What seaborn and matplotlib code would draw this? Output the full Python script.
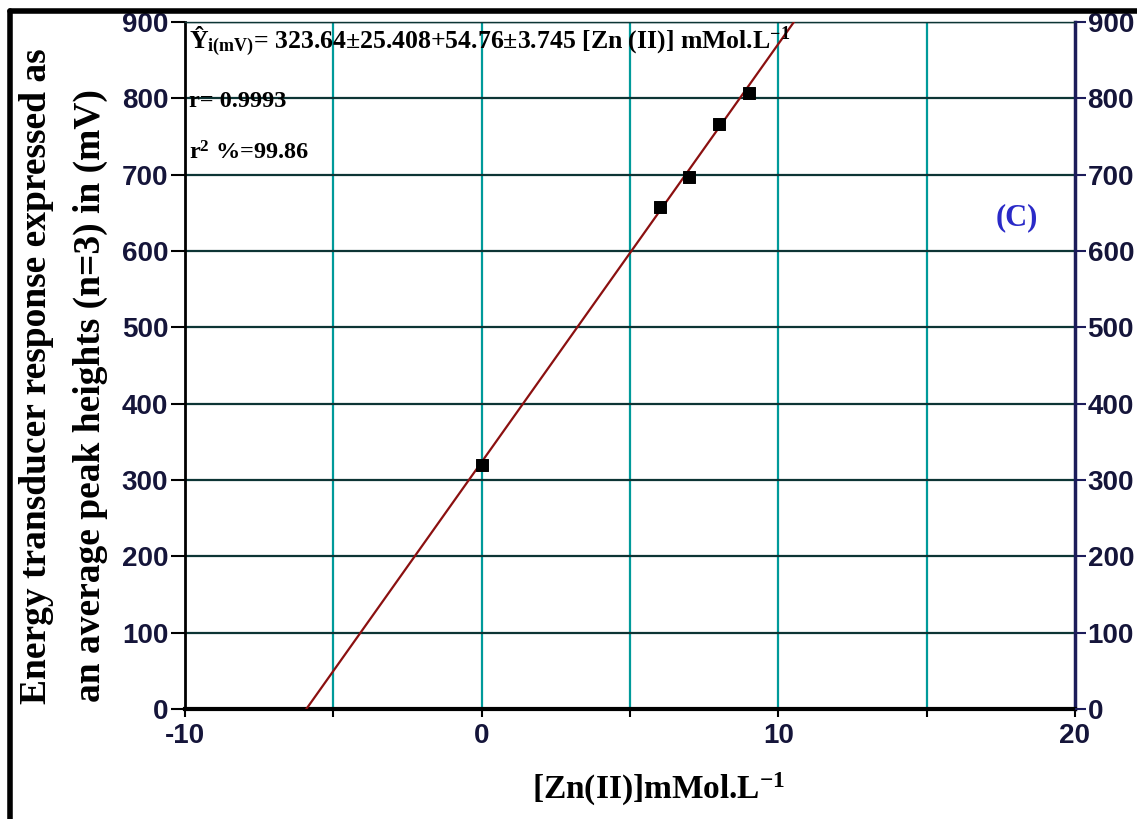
import numpy as np
import pandas as pd
import matplotlib
matplotlib.use("Agg")
import matplotlib.pyplot as plt
from matplotlib.lines import Line2D
import seaborn as sns

# ---- data ----
zn_conc = [0, 6, 7, 8, 9]                 # [Zn(II)] mMol/L
peak_mv = [320, 657, 697, 766, 807]        # mV
intercept = 323.64
slope = 54.76
x_ticks = [-10, 0, 10, 20]
x_grid = [-10, -5, 0, 5, 10, 15, 20]
y_ticks = [0, 100, 200, 300, 400, 500, 600, 700, 800, 900]
ylabel_lines = ["Energy transducer response expressed as",
                "an average peak heights (n=3) in (mV)"]

sns.set_theme(style="white")
plt.rcParams['font.family'] = ['Liberation Sans', 'DejaVu Sans']
plt.rcParams['mathtext.fontset'] = 'custom'
plt.rcParams['mathtext.rm'] = 'Liberation Serif:bold'
plt.rcParams['mathtext.it'] = 'Liberation Serif:bold:italic'
plt.rcParams['mathtext.bf'] = 'Liberation Serif:bold'

fig = plt.figure(figsize=(11.37, 8.19), dpi=100)
ax = fig.add_axes([185/1137, 1-709/819, 890/1137, 687/819])

df = pd.DataFrame({"x": zn_conc, "y": peak_mv})
xf = np.linspace(x_ticks[0], x_ticks[-1], 200)
fit = pd.DataFrame({"x": xf, "y": intercept + slope * xf})

# grid
for g in x_grid[1:-1]:
    ax.axvline(g, color='#009a9a', lw=1.6, zorder=1)
for g in y_ticks[1:-1]:
    ax.axhline(g, color='#0d3535', lw=1.6, zorder=1)
ax.axhline(y_ticks[-1], color='#0d3535', lw=1.0, zorder=1)

sns.lineplot(data=fit, x="x", y="y", ax=ax, color='#8b1010', lw=1.6, zorder=3)
sns.scatterplot(data=df, x="x", y="y", ax=ax, marker='s', s=75, color='black',
                edgecolor='black', zorder=4)

ax.set_xlim(x_ticks[0], x_ticks[-1])
ax.set_ylim(y_ticks[0], y_ticks[-1])
ax.set_xticks(x_ticks)
ax.set_xticks(x_grid, minor=True)
ax.set_yticks(y_ticks)
tick_col = '#15153a'
ax.set_xticklabels([str(t) for t in x_ticks], fontsize=20, fontweight='bold', color=tick_col)
ax.set_yticklabels([str(t) for t in y_ticks], fontsize=20, fontweight='bold', color=tick_col)
ax.tick_params(axis='y', which='major', direction='out', length=10, width=1.5, color='black', pad=2, left=True)
ax.tick_params(axis='x', which='both', direction='out', length=6, width=1.5, color='black', pad=4, bottom=True)

for s in ['left', 'bottom']:
    ax.spines[s].set_color('black')
ax.spines['left'].set_linewidth(2.0)
ax.spines['bottom'].set_linewidth(3.0)
ax.spines['top'].set_linewidth(1.0)
ax.spines['top'].set_color('#0d3535')
ax.spines['right'].set_color('#1c1c5a')
ax.spines['right'].set_linewidth(2.5)

ax2 = ax.twinx()
ax2.set_ylim(y_ticks[0], y_ticks[-1])
ax2.set_yticks(y_ticks)
ax2.set_yticklabels([str(t) for t in y_ticks], fontsize=20, fontweight='bold', color=tick_col)
ax2.tick_params(axis='y', direction='out', length=8, width=1.5, color='#1c1c5a', pad=1, right=True)
for s in ax2.spines.values():
    s.set_visible(False)
ax2.grid(False)

ax.set_xlabel("[Zn(II)]mMol.L$^{\\mathregular{-1}}$", fontsize=24, fontweight='bold',
              family='Liberation Serif', labelpad=18, color='black')
ax.xaxis.set_label_coords(0.532, -0.09)
ax.set_ylabel("")

fig.text(37/1137, 1-376/819, ylabel_lines[0], rotation=90, fontsize=27, fontweight='bold',
         family='Liberation Serif', ha='center', va='center', color='black')
fig.text(90/1137, 1-396/819, ylabel_lines[1], rotation=90, fontsize=27, fontweight='bold',
         family='Liberation Serif', ha='center', va='center', color='black')

ax.text(0.005, 0.997, "Ŷ$_{\\mathregular{i(mV)}}$= 323.64±25.408+54.76±3.745 [Zn (II)] mMol.L$^{\\mathregular{-1}}$",
        transform=ax.transAxes, fontsize=18.5, fontweight='bold', family='Liberation Serif',
        va='top', ha='left', color='black')
ax.text(0.005, 0.885, "r= 0.9993", transform=ax.transAxes, fontsize=17.5, fontweight='bold',
        family='Liberation Serif', va='center', ha='left', color='black')
ax.text(0.005, 0.81, "r$^{\\mathregular{2}}$ %=99.86", transform=ax.transAxes, fontsize=17.5,
        fontweight='bold', family='Liberation Serif', va='center', ha='left', color='black')
ax.text(0.935, 0.715, "(C)", transform=ax.transAxes, fontsize=22, fontweight='bold',
        family='Liberation Serif', va='center', ha='center', color='#2a2ac8')

# figure frame (top and left)
fig.add_artist(Line2D([10/1137, 1], [1-11/819, 1-11/819], transform=fig.transFigure, color='black', lw=4))
fig.add_artist(Line2D([10/1137, 10/1137], [0, 1-11/819], transform=fig.transFigure, color='black', lw=4))

fig.savefig("out.png", dpi=100)
